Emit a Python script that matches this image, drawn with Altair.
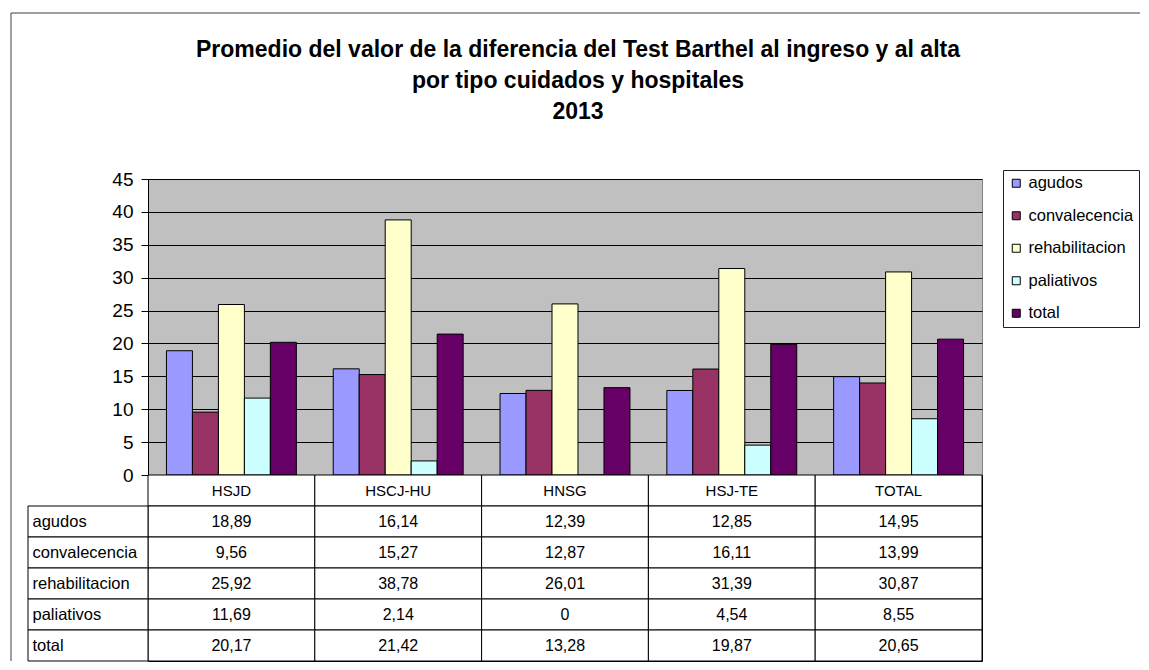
import altair as alt
import pandas as pd

# ---- data ----
hospitals = ["HSJD", "HSCJ-HU", "HNSG", "HSJ-TE", "TOTAL"]
series = ["agudos", "convalecencia", "rehabilitacion", "paliativos", "total"]
agudos = [18.89, 16.14, 12.39, 12.85, 14.95]
convalecencia = [9.56, 15.27, 12.87, 16.11, 13.99]
rehabilitacion = [25.92, 38.78, 26.01, 31.39, 30.87]
paliativos = [11.69, 2.14, 0, 4.54, 8.55]
total = [20.17, 21.42, 13.28, 19.87, 20.65]
colors = ["#9999FF", "#993366", "#FFFFCC", "#CCFFFF", "#660066"]
y_ticks = [0, 5, 10, 15, 20, 25, 30, 35, 40, 45]
title_lines = [
    "Promedio del valor de la diferencia del Test Barthel al ingreso y al alta",
    "por tipo cuidados y hospitales",
    "2013",
]

FONT = "Liberation Sans"
series_values = {
    "agudos": agudos,
    "convalecencia": convalecencia,
    "rehabilitacion": rehabilitacion,
    "paliativos": paliativos,
    "total": total,
}
records = []
for s in series:
    for h, v in zip(hospitals, series_values[s]):
        records.append({"hospital": h, "fila": s, "valor": v})
df = pd.DataFrame(records)
header_key = "cab"
hdr = pd.DataFrame({"hospital": hospitals, "fila": [header_key] * len(hospitals), "texto": hospitals})
row_order = [header_key] + series
cells_df = pd.DataFrame(
    [{"hospital": h, "fila": r} for r in row_order for h in hospitals]
)

TOP_H = 296
TABLE_H = 186

# ---- top panel: clustered bars ----
bars = alt.Chart(df).mark_bar(stroke="black", strokeWidth=1).encode(
    x=alt.X("hospital:N", sort=hospitals,
            scale=alt.Scale(domain=hospitals, paddingInner=0, paddingOuter=0), axis=None),
    xOffset=alt.XOffset("fila:N", sort=series,
                        scale=alt.Scale(domain=series, paddingInner=0, paddingOuter=0.71)),
    y=alt.Y("valor:Q", scale=alt.Scale(domain=[0, 45], nice=False),
            axis=alt.Axis(values=y_ticks, title=None, grid=True, gridColor="black",
                          gridOpacity=1, gridWidth=1, domainColor="black", tickColor="black",
                          tickSize=7, labelPadding=8, labelFontSize=19, labelColor="black",
                          labelFont=FONT)),
    color=alt.Color("fila:N", sort=series, scale=alt.Scale(domain=series, range=colors),
                    legend=alt.Legend(title=None, orient="none", legendX=855, legendY=-9,
                                      strokeColor="#222222", fillColor="white", padding=5,
                                      rowPadding=15.5, symbolType="square", symbolSize=64,
                                      symbolStrokeColor="black", symbolStrokeWidth=1,
                                      labelFontSize=16.5, labelColor="black", labelFont=FONT,
                                      labelOffset=4, labelLimit=300, cornerRadius=0)),
)

top = bars.properties(
    width=834, height=TOP_H,
    view=alt.ViewBackground(fill="#C0C0C0", stroke="#808080"),
    title=alt.TitleParams(text=title_lines, fontSize=23, fontWeight="bold", font=FONT,
                          color="black", lineHeight=31, anchor="middle", frame="group",
                          dx=13, offset=46),
)

# ---- bottom panel: data table ----
xsc = alt.Scale(domain=hospitals, paddingInner=0, paddingOuter=0)
ysc = alt.Scale(domain=row_order, paddingInner=0, paddingOuter=0)

cells = alt.Chart(cells_df).mark_rect(fill="white", stroke="black", strokeWidth=1).encode(
    x=alt.X("hospital:N", scale=xsc, axis=None),
    y=alt.Y("fila:N", scale=ysc,
            axis=alt.Axis(values=series, title=None, ticks=False, domain=False,
                          labelAlign="left", labelPadding=116, labelFontSize=16.5,
                          labelColor="black", labelFont=FONT)),
)
label_cells = alt.Chart(pd.DataFrame({"fila": series})).mark_rect(
    fill="white", stroke="black", strokeWidth=1
).encode(x=alt.value(-120), x2=alt.value(0), y=alt.Y("fila:N"))

value_text = alt.Chart(df).transform_calculate(
    texto="replace(format(datum.valor, '.2~f'), '.', ',')"
).mark_text(fontSize=16, color="black", font=FONT).encode(
    x=alt.X("hospital:N"), y=alt.Y("fila:N"), text="texto:N"
)
header_text = alt.Chart(hdr).mark_text(fontSize=15, color="black", font=FONT).encode(
    x=alt.X("hospital:N"), y=alt.Y("fila:N"), text="texto:N"
)

frame_y = -(166 + TOP_H)
frame_left = alt.Chart(alt.Data(values=[{}])).mark_rule(color="#404040", strokeWidth=1).encode(
    x=alt.value(-137), y=alt.value(frame_y), y2=alt.value(TABLE_H)
)
frame_top = alt.Chart(alt.Data(values=[{}])).mark_rule(color="#404040", strokeWidth=1).encode(
    x=alt.value(-137), x2=alt.value(992), y=alt.value(frame_y)
)

bottom = alt.layer(cells, label_cells, value_text, header_text, frame_left, frame_top).properties(
    width=834, height=TABLE_H,
    view=alt.ViewBackground(fill="white", stroke="black"),
)

chart = alt.vconcat(top, bottom, spacing=0, bounds="flush").resolve_scale(
    x="independent", y="independent", color="independent"
).resolve_legend(color="independent").properties(
    padding={"left": 2, "top": 4, "right": 0, "bottom": 0},
    background="white",
).configure(font=FONT)

chart.save("out.html", embed_options={"renderer": "svg", "actions": False})
